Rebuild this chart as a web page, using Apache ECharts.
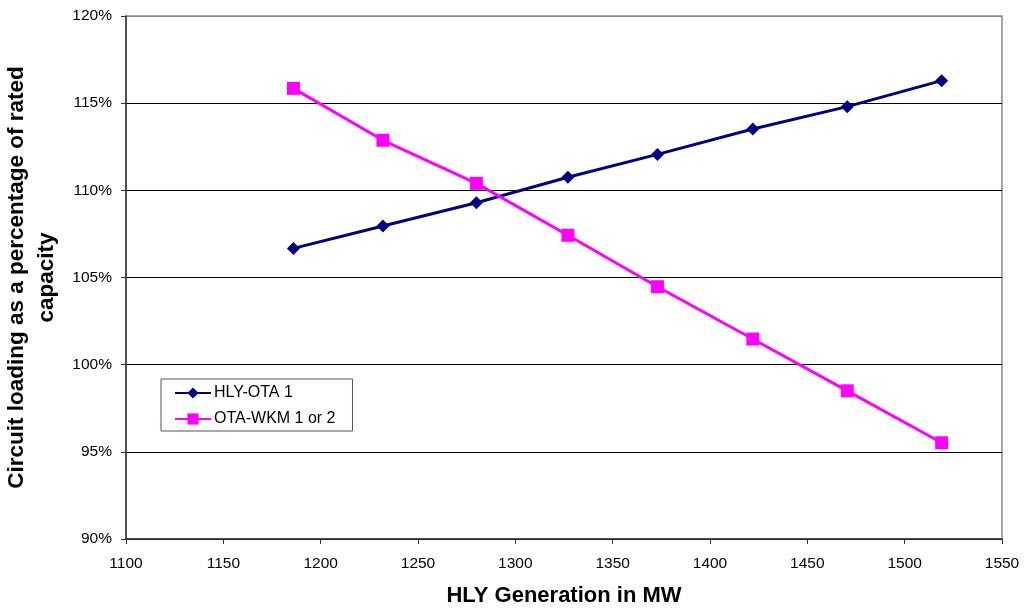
<!DOCTYPE html>
<html>
<head>
<meta charset="utf-8">
<script src="https://cdn.jsdelivr.net/npm/echarts@6/dist/echarts.min.js"></script>
<style>html,body{margin:0;padding:0;background:#fff}#c{width:1034px;height:610px}</style>
</head>
<body>
<div id="c"></div>
<script>
var generationMW = [1186, 1232, 1280, 1327, 1373, 1422, 1470.5, 1519];
var hlyOta1 = [106.67, 107.95, 109.29, 110.75, 112.06, 113.52, 114.80, 116.29];
var otaWkm = [115.85, 112.87, 110.40, 107.42, 104.47, 101.47, 98.50, 95.52];
var seriesNames = ['HLY-OTA 1', 'OTA-WKM 1 or 2'];
var xTitle = 'HLY Generation in MW';
var yTitle = 'Circuit loading as a percentage of rated\ncapacity';

function pairs(xs, ys) { return xs.map(function (x, i) { return [x, ys[i]]; }); }

var chart = echarts.init(document.getElementById('c'), null, { renderer: 'canvas' });
var font = 'Liberation Sans, Arial, sans-serif';
chart.setOption({
  animation: false,
  backgroundColor: '#fff',
  textStyle: { fontFamily: font },
  grid: { left: 126, right: 32, top: 16, bottom: 71, containLabel: false, outerBoundsMode: 'none',
          show: true, borderColor: '#8a8a8a', borderWidth: 1.5 },
  legend: {
    orient: 'vertical', left: 161, top: 379,
    borderColor: '#555', borderWidth: 1, borderRadius: 0,
    padding: [6, 17, 4, 13], itemGap: 10, itemWidth: 36, itemHeight: 14,
    textStyle: { fontFamily: font, fontSize: 16, color: '#000', padding: [0, 0, 0, -2] },
    data: seriesNames
  },
  xAxis: {
    type: 'value', min: 1100, max: 1550, interval: 50,
    name: xTitle, nameLocation: 'middle', nameGap: 46,
    nameTextStyle: { fontFamily: font, fontSize: 22, fontWeight: 'bold', color: '#000' },
    axisLine: { show: true, onZero: false, lineStyle: { color: '#333', width: 1.5 } },
    axisTick: { show: true, length: 5, lineStyle: { color: '#333' } },
    axisLabel: { fontFamily: font, fontSize: 15.5, color: '#000', margin: 17,
                 formatter: function (v) { return String(v); } },
    splitLine: { show: false }
  },
  yAxis: {
    type: 'value', min: 90, max: 120, interval: 5,
    name: yTitle, nameLocation: 'middle', nameGap: 61, nameRotate: 90,
    nameTextStyle: { fontFamily: font, fontSize: 22.5, fontWeight: 'bold', color: '#000', lineHeight: 30, align: 'center' },
    axisLine: { show: true, lineStyle: { color: '#333', width: 1.5 } },
    axisTick: { show: true, length: 5, lineStyle: { color: '#333' } },
    axisLabel: { fontFamily: font, fontSize: 15.5, color: '#000', margin: 14, formatter: '{value}%' },
    splitLine: { show: true, lineStyle: { color: ['#000', '#000', '#000', '#000', '#000', '#000', '#8a8a8a'], width: 1 } }
  },
  series: [
    {
      name: seriesNames[0], type: 'line', data: pairs(generationMW, hlyOta1),
      symbol: 'diamond', symbolSize: 13,
      lineStyle: { color: '#000080', width: 3 },
      itemStyle: { color: '#000080' }
    },
    {
      name: seriesNames[1], type: 'line', data: pairs(generationMW, otaWkm),
      symbol: 'rect', symbolSize: 13,
      lineStyle: { color: '#FF00FF', width: 3 },
      itemStyle: { color: '#FF00FF' }
    }
  ]
});
</script>
</body>
</html>
